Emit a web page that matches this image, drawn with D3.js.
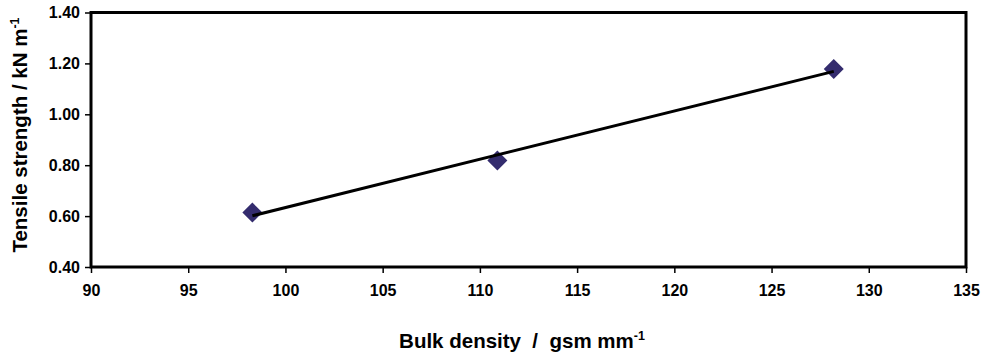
<!DOCTYPE html>
<html>
<head>
<meta charset="utf-8">
<script src="https://cdn.jsdelivr.net/npm/d3@7"></script>
<style>
  body { margin: 0; background: #fff; }
  svg text { font-family: "Liberation Sans", Arial, sans-serif; font-weight: bold; fill: #000; white-space: pre; }
</style>
</head>
<body>
<div id="chart"></div>
<script>
const width = 985, height = 357;
const margin = {top: 12.5, right: 19, bottom: 90, left: 91};

// data
const bulkDensity = [98.3, 110.9, 128.2];
const tensileStrength = [0.614, 0.818, 1.178];
const xTicks = [90, 95, 100, 105, 110, 115, 120, 125, 130, 135];
const yTicks = [0.40, 0.60, 0.80, 1.00, 1.20, 1.40];

const svg = d3.select("#chart").append("svg")
  .attr("width", width)
  .attr("height", height);

const x = d3.scaleLinear().domain([90, 135]).range([margin.left, width - margin.right]);
const y = d3.scaleLinear().domain([0.4, 1.4]).range([height - margin.bottom, margin.top]);

// x axis
const xAxis = svg.append("g")
  .attr("transform", "translate(0," + y(0.4) + ")")
  .call(d3.axisBottom(x).tickValues(xTicks).tickSize(6).tickPadding(12).tickFormat(d3.format("d")));
xAxis.select(".domain").remove();
xAxis.selectAll("line").attr("stroke", "#000").attr("stroke-width", 1.5);
xAxis.selectAll("text").style("font-size", "16px").attr("fill", "#000");

// y axis
const yAxis = svg.append("g")
  .attr("transform", "translate(" + x(90) + ",0)")
  .call(d3.axisLeft(y).tickValues(yTicks).tickSize(6).tickPadding(5).tickFormat(d3.format(".2f")));
yAxis.select(".domain").remove();
yAxis.selectAll("line").attr("stroke", "#000").attr("stroke-width", 1.5);
yAxis.selectAll("text").style("font-size", "16px").attr("fill", "#000");

// plot frame
svg.append("rect")
  .attr("x", x(90))
  .attr("y", y(1.4))
  .attr("width", x(135) - x(90))
  .attr("height", y(0.4) - y(1.4))
  .attr("fill", "none")
  .attr("stroke", "#000")
  .attr("stroke-width", 3);

// markers
const pts = bulkDensity.map((d, i) => ({x: d, y: tensileStrength[i]}));
svg.append("g").selectAll("path")
  .data(pts)
  .enter().append("path")
  .attr("d", d3.symbol().type(d3.symbolSquare).size(200))
  .attr("transform", d => "translate(" + x(d.x) + "," + y(d.y) + ") rotate(45)")
  .attr("fill", "#342c6e");

// linear trendline (least squares through the points)
const mx = d3.mean(bulkDensity), my = d3.mean(tensileStrength);
const slope = d3.sum(pts, p => (p.x - mx) * (p.y - my)) / d3.sum(pts, p => (p.x - mx) * (p.x - mx));
const icpt = my - slope * mx;
const xmin = d3.min(bulkDensity), xmax = d3.max(bulkDensity);
svg.append("path")
  .datum([[xmin, icpt + slope * xmin], [xmax, icpt + slope * xmax]])
  .attr("d", d3.line().x(d => x(d[0])).y(d => y(d[1])))
  .attr("stroke", "#000")
  .attr("stroke-width", 3)
  .attr("fill", "none");

// axis titles
const xt = svg.append("text")
  .attr("x", 522)
  .attr("y", 348)
  .attr("text-anchor", "middle")
  .style("font-size", "20.5px");
xt.append("tspan").text("Bulk density  /  gsm mm");
xt.append("tspan").attr("dy", -8).style("font-size", "12.5px").text("-1");

const yt = svg.append("text")
  .attr("transform", "translate(27,135) rotate(-90)")
  .attr("text-anchor", "middle")
  .style("font-size", "20.5px");
yt.append("tspan").text("Tensile strength / kN m");
yt.append("tspan").attr("dy", -8).style("font-size", "12.5px").text("-1");
</script>
</body>
</html>
